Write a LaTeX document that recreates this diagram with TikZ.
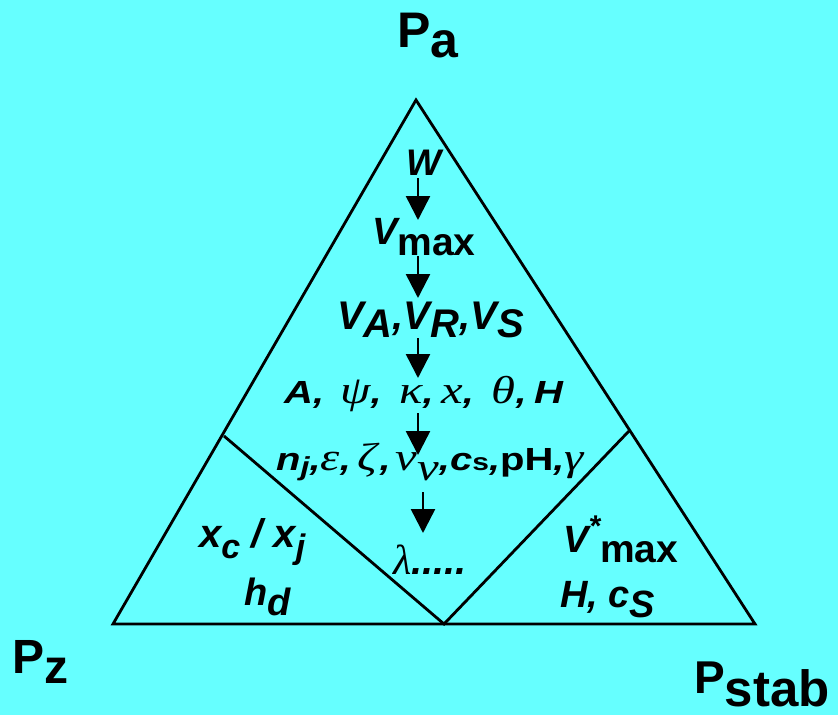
\documentclass[tikz,border=0pt]{standalone}
\usepackage{graphicx}
\usepackage{fontspec}
\setmainfont{Liberation Sans}
\newfontfamily\grfont{Liberation Serif}
\usetikzlibrary{arrows.meta}
\definecolor{bgcyan}{RGB}{102,255,255}
\newcommand\fs[1]{\fontsize{#1}{#1}\selectfont}
\newcommand\gk[1]{{\grfont\itshape\mdseries\fs{39}#1}}
\newcommand\lowr[2]{\raisebox{-#1pt}{#2}}
\tikzset{
 lbl/.style={inner sep=0pt, anchor=base west, font=\fs{38}\bfseries\itshape},
 wide/.style={inner sep=0pt, anchor=base west, font=\fs{32}\bfseries\itshape},
 corner/.style={inner sep=0pt, anchor=base west, font=\fs{50}\bfseries},
 edge/.style={line width=2.8pt, line join=miter},
 flow/.style={line width=2.5pt, -{Triangle[width=24pt,length=24pt]}},
}
\begin{document}
\begin{tikzpicture}[x=1pt,y=-1pt]
\fill[bgcyan] (0,0) rectangle (838,715);
\useasboundingbox (0,0) rectangle (838,715);
% triangle
\coordinate (T) at (416,100);
\coordinate (L) at (113,624);
\coordinate (R) at (755,624);
\coordinate (M) at (444,624);
\coordinate (LE) at (224,436);
\coordinate (RE) at (629,431);
\draw[edge] (T) -- (L) -- (R) -- cycle;
\draw[edge] (LE) -- (M) -- (RE);
% corner labels
\node[corner] (Pa) at (397,47) {P\lowr{10}{a}};
\node[corner,font=\fs{48}\bfseries] (Pz) at (12,673) {P\lowr{10}{z}};
\node[corner] (Pstab) at (694,693) {{\fs{46}P}\raisebox{-13pt}[\height][0pt]{\fs{51}stab}};
% central chain
\node[lbl,font=\fs{37}\bfseries\itshape] (W) at (406,175) {W};
\node[lbl] (Vmax) at (372,244) {V\lowr{11}{\upshape\fs{39}max}};
\node[lbl,font=\fs{40}\bfseries\itshape] (VARS) at (337,329) {V\lowr{8}{A},V\lowr{8}{R},V\lowr{8}{S}};
\node[wide] (params) at (284,403) {\scalebox{1.25}[1]{A,\hspace{13pt}\gk{ψ},\hspace{14pt}\gk{κ},\hspace{6pt}\gk{x},\hspace{14pt}\gk{θ},\hspace{6pt}H}};
\node[wide] (nj) at (276,470) {\scalebox{1.25}[1]{n\lowr{5}{\fs{26}j},\gk{ε},\hspace{5pt}\gk{ζ}\hspace{2pt},\hspace{4pt}\gk{ν}\lowr{10}{\gk{ν}},c{\upshape\fs{24}s},{\upshape pH},\gk{γ}}};
\node[lbl] (lam) at (393,574) {\gk{\fs{42}λ}{\fs{40}.....}};
% left
\node[lbl,font=\fs{40}\bfseries\itshape] (xc) at (199,547) {x\lowr{11}{\fs{34}c} / x\lowr{11}{\fs{34}j}};
\node[lbl] (hd) at (244,605) {h\lowr{10}{d}};
% right
\node[lbl] (Vstar) at (563,552) {V\raisebox{16pt}{\fs{30}*}\lowr{10}{\upshape\fs{39}max}};
\node[lbl] (Hcs) at (560,607) {H, c\lowr{10}{S}};
% arrows
\coordinate (a1s) at (418,178); \coordinate (a1e) at (418,220);
\coordinate (a2s) at (418,256); \coordinate (a2e) at (418,298);
\coordinate (a3s) at (418,338); \coordinate (a3e) at (418,378);
\coordinate (a4s) at (418,413); \coordinate (a4e) at (418,455);
\coordinate (a5s) at (423,492); \coordinate (a5e) at (423,533);
\draw[flow] (a1s) -- (a1e);
\draw[flow] (a2s) -- (a2e);
\draw[flow] (a3s) -- (a3e);
\draw[flow] (a4s) -- (a4e);
\draw[flow] (a5s) -- (a5e);
\end{tikzpicture}
\end{document}
